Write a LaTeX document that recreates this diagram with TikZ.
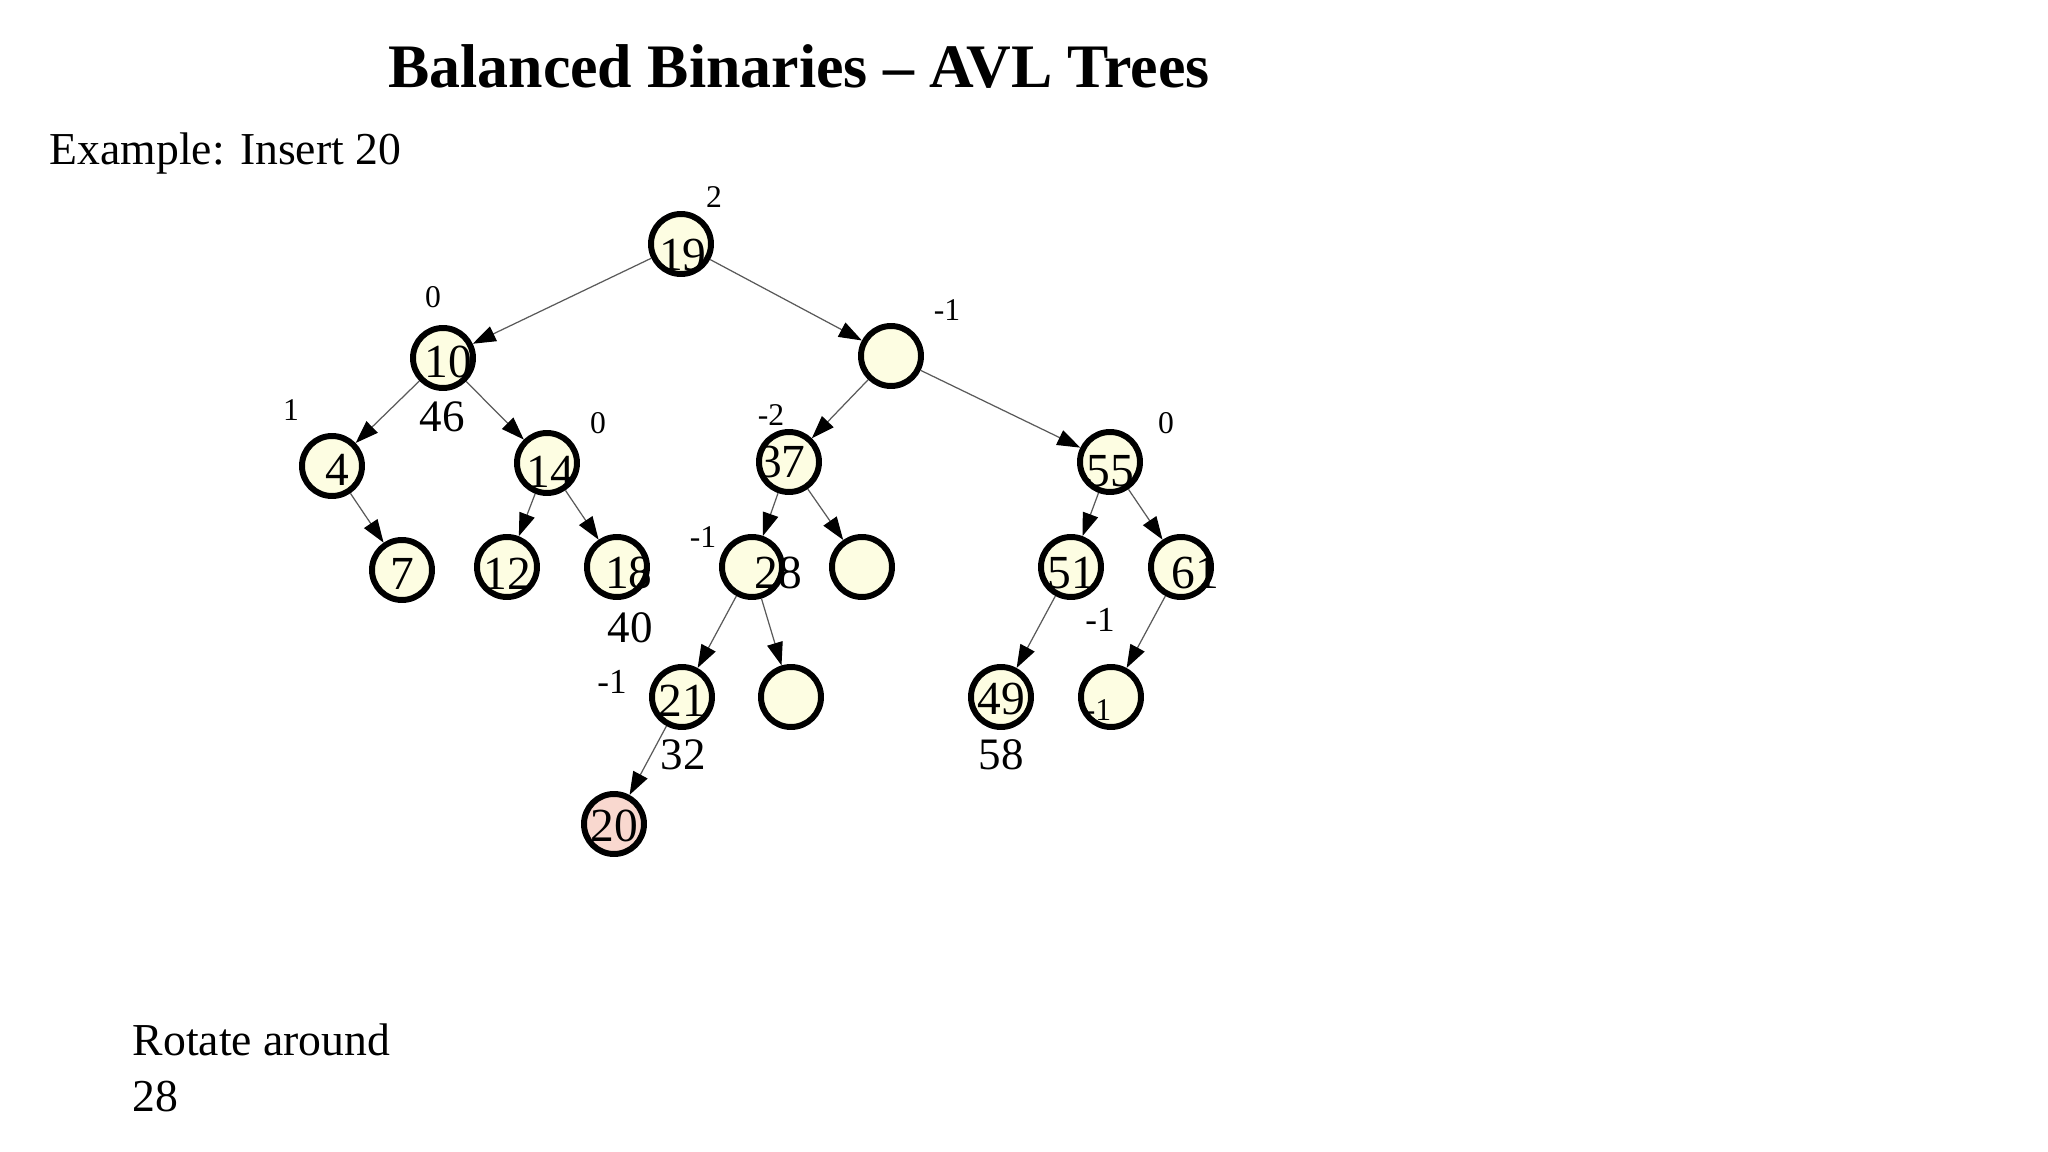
\documentclass[tikz,border=0pt]{standalone}
\usepackage{fontspec}
\setmainfont{Liberation Serif}
\usetikzlibrary{arrows.meta}
\definecolor{Avlcream}{HTML}{FDFDE2}
\definecolor{Avlpink}{HTML}{F9D8CF}
\definecolor{Avledge}{HTML}{5A5A5A}

\begin{document}
\begin{tikzpicture}[
		avl/.style={circle,draw=black,line width=1.7pt,fill=Avlcream,
				minimum size=0.6cm,inner sep=0pt},
		num/.style={inner sep=0pt,font=\fontsize{13.5}{15}\selectfont},
		bal/.style={inner sep=0pt,font=\fontsize{9}{10}\selectfont},
		extra/.style={inner sep=0pt,font=\fontsize{12.8}{14}\selectfont},
		plain/.style={inner sep=0pt,anchor=base west,font=\fontsize{13}{16}\selectfont},
		edge/.style={draw=Avledge,line width=0.35pt,
				-{Triangle[length=2.3mm,width=1.6mm,color=black]}}]
	\useasboundingbox (0,0) rectangle (20.48,-11.52);
	% texts
	\node[inner sep=0pt,anchor=base,font=\fontsize{17.6}{20}\selectfont\bfseries]
	(title) at (7.99,-0.88) {Balanced Binaries – AVL Trees};
	\node[plain] (example) at (0.49,-1.65) {Example: Insert 20};
	\node[plain] (rotate) at (1.32,-10.55) {Rotate around};
	\node[plain] (pivot) at (1.32,-11.12) {28};
	% tree
	\foreach \n/\x/\y in {n19/6.81/-2.44, nR/8.91/-3.56, n10/4.43/-3.58,
			n4/3.32/-4.66, n14/5.47/-4.63, n37/7.89/-4.62, n55/11.10/-4.62,
			n7/4.02/-5.70, n12/5.07/-5.67, n18/6.17/-5.67, n28/7.52/-5.67,
			nA/8.62/-5.67, n51/10.71/-5.67, n61/11.81/-5.67,
			n21/6.82/-6.97, nB/7.91/-6.97, n49/10.01/-6.97, nC/11.11/-6.97}
		\node[avl] (\n) at (\x,\y) {};
	\node[avl,fill=Avlpink] (n20) at (6.14,-8.24) {};
	\foreach \n/\t/\dx/\dy in {n19/19/0.5/-3, n10/10/1.5/-1, n4/4/1.4/-1,
			n14/14/1/-2.5, n37/37/-2/0, n55/55/0/-2.5, n7/7/0/-1, n12/12/0/-2,
			n18/18/3.4/-1.7, n28/28/7.4/-1.7, n51/51/0/-1.7, n61/61/4/-1.7,
			n21/21/0/-1, n49/49/0/-0.5, n20/20/0/-0.5}
		\node[num,xshift=\dx pt,yshift=\dy pt] (t\n) at (\n) {\t};
	\node[bal,xshift=-3.7pt,yshift=-3.7pt] (tnC) at (nC) {-1};
	% balance factors
	\node[bal] (b19) at (7.14,-1.97) {2};
	\node[bal] (b10) at (4.33,-2.97) {0};
	\node[bal] (bR) at (9.47,-3.10) {-1};
	\node[bal] (b4) at (2.91,-4.10) {1};
	\node[bal] (b14) at (5.98,-4.23) {0};
	\node[bal] (b37) at (7.71,-4.15) {-2};
	\node[bal] (b55) at (11.66,-4.23) {0};
	\node[bal] (b28) at (7.03,-5.37) {-1};
	\node[bal,font=\fontsize{10}{11}\selectfont] (b61) at (11.00,-6.20) {-1};
	\node[bal,font=\fontsize{10}{11}\selectfont] (b21) at (6.12,-6.82) {-1};
	\node[extra] (x46) at (4.42,-4.17) {46};
	\node[extra] (x40) at (6.30,-6.28) {40};
	\node[extra] (x32) at (6.83,-7.55) {32};
	\node[extra] (x58) at (10.01,-7.55) {58};
	% edges
	\foreach \a/\b in {n19/n10, n19/nR, n10/n4, n10/n14, n4/n7, n14/n12,
			n14/n18, nR/n37, nR/n55, n37/n28, n37/nA, n55/n51, n55/n61,
			n28/n21, n28/nB, n51/n49, n61/nC, n21/n20}
		\draw[edge] (\a) -- (\b);
\end{tikzpicture}
\end{document}
